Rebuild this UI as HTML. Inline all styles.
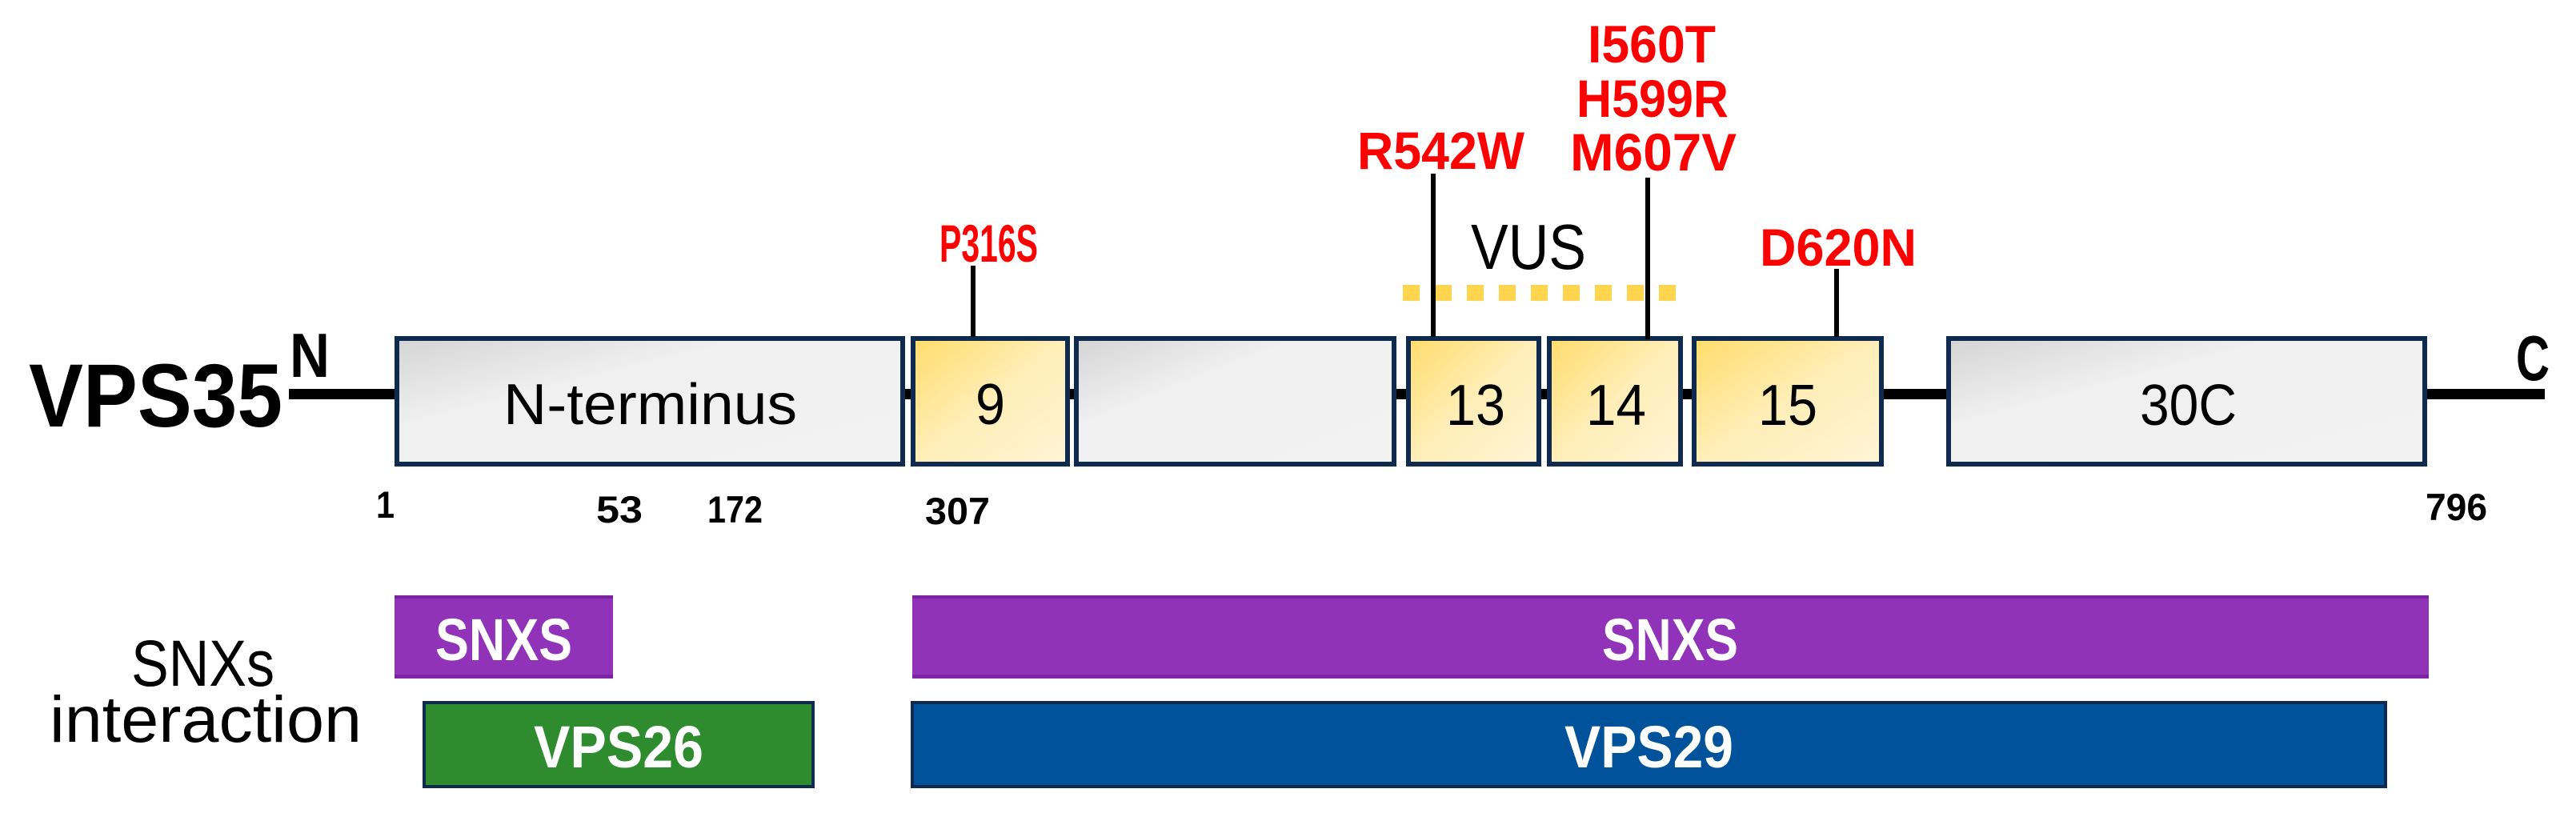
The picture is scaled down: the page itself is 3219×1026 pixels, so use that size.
<!DOCTYPE html>
<html><head><meta charset="utf-8"><style>html,body{margin:0;padding:0;background:#fff}svg{display:block}</style></head>
<body>
<svg width="3219" height="1026" viewBox="0 0 3219 1026" xmlns="http://www.w3.org/2000/svg" font-family="Liberation Sans, sans-serif">
<defs>
<linearGradient id="g" x1="0" y1="0" x2="1" y2="1"><stop offset="0" stop-color="#d4d4d4"/><stop offset="0.35" stop-color="#f0f0f0"/><stop offset="1" stop-color="#f2f2f2"/></linearGradient>
<linearGradient id="y" x1="0" y1="0" x2="1" y2="1"><stop offset="0" stop-color="#ffdc6a"/><stop offset="0.5" stop-color="#ffeeb8"/><stop offset="1" stop-color="#fff4d6"/></linearGradient>
</defs>
<!-- backbone -->
<rect x="361" y="486" width="2819" height="13" fill="#000"/>
<!-- boxes -->
<g stroke="#0f2a4f" stroke-width="6">
<rect x="496" y="423" width="632" height="157" fill="url(#g)"/>
<rect x="1141" y="423" width="193" height="157" fill="url(#y)"/>
<rect x="1345" y="423" width="397" height="157" fill="url(#g)"/>
<rect x="1760" y="423" width="163" height="157" fill="url(#y)"/>
<rect x="1936" y="423" width="164" height="157" fill="url(#y)"/>
<rect x="2117" y="423" width="234" height="157" fill="url(#y)"/>
<rect x="2435" y="423" width="595" height="157" fill="url(#g)"/>
</g>
<!-- VUS dotted -->
<line x1="1753" y1="366" x2="2101" y2="366" stroke="#ffd54f" stroke-width="20" stroke-dasharray="21 19"/>
<!-- stems -->
<g stroke="#000" stroke-width="6">
<line x1="1216" y1="332" x2="1216" y2="421"/>
<line x1="1791" y1="217" x2="1791" y2="421"/>
<line x1="2059" y1="222" x2="2059" y2="424"/>
<line x1="2295" y1="336" x2="2295" y2="421"/>
</g>
<!-- labels -->
<g font-weight="bold" fill="#000" lengthAdjust="spacingAndGlyphs">
<text x="36" y="533" font-size="112" textLength="317" lengthAdjust="spacingAndGlyphs">VPS35</text>
<text x="362" y="471" font-size="78" textLength="50" lengthAdjust="spacingAndGlyphs">N</text>
<text x="3144" y="475" font-size="80" textLength="42" lengthAdjust="spacingAndGlyphs">C</text>
<g font-size="47">
<text x="470" y="647" textLength="23" lengthAdjust="spacingAndGlyphs">1</text>
<text x="745" y="653" textLength="58" lengthAdjust="spacingAndGlyphs">53</text>
<text x="884" y="653" textLength="69" lengthAdjust="spacingAndGlyphs">172</text>
<text x="1156" y="655" textLength="81" lengthAdjust="spacingAndGlyphs">307</text>
<text x="3031" y="650" textLength="77" lengthAdjust="spacingAndGlyphs">796</text>
</g>
</g>
<g font-size="72" fill="#000">
<text x="629" y="530" textLength="367" lengthAdjust="spacingAndGlyphs">N-terminus</text>
<text x="1219" y="530" textLength="37" lengthAdjust="spacingAndGlyphs">9</text>
<text x="1807" y="531" textLength="74" lengthAdjust="spacingAndGlyphs">13</text>
<text x="1982" y="531" textLength="75" lengthAdjust="spacingAndGlyphs">14</text>
<text x="2197" y="531" textLength="74" lengthAdjust="spacingAndGlyphs">15</text>
<text x="2674" y="531" textLength="121" lengthAdjust="spacingAndGlyphs">30C</text>
<text x="1838" y="336" font-size="80" textLength="144" lengthAdjust="spacingAndGlyphs">VUS</text>
</g>
<g font-size="66" font-weight="bold" fill="#ff0000">
<text x="1174" y="327" textLength="123" lengthAdjust="spacingAndGlyphs">P316S</text>
<text x="1696" y="211" textLength="209" lengthAdjust="spacingAndGlyphs">R542W</text>
<text x="1984" y="78" textLength="160" lengthAdjust="spacingAndGlyphs">I560T</text>
<text x="1970" y="146" textLength="190" lengthAdjust="spacingAndGlyphs">H599R</text>
<text x="1962" y="213" textLength="208" lengthAdjust="spacingAndGlyphs">M607V</text>
<text x="2199" y="332" textLength="196" lengthAdjust="spacingAndGlyphs">D620N</text>
</g>
<!-- interaction bars -->
<rect x="493" y="744" width="273" height="104" fill="#9033b8"/>
<rect x="493" y="744" width="273" height="4" fill="#7a24a0"/>
<rect x="493" y="843" width="273" height="4" fill="#7a24a0"/>
<rect x="1140" y="744" width="1895" height="104" fill="#9033b8"/>
<rect x="1140" y="744" width="1895" height="4" fill="#7a24a0"/>
<rect x="1140" y="843" width="1895" height="4" fill="#7a24a0"/>
<rect x="530" y="878" width="486" height="105" fill="#2e8b2e" stroke="#0f2a4f" stroke-width="4"/>
<rect x="1140" y="878" width="1841" height="105" fill="#00529b" stroke="#0f2a4f" stroke-width="4"/>
<g font-size="74" font-weight="bold" fill="#fff">
<text x="544" y="825" textLength="171" lengthAdjust="spacingAndGlyphs">SNXS</text>
<text x="2002" y="825" textLength="170" lengthAdjust="spacingAndGlyphs">SNXS</text>
<text x="667" y="959" textLength="212" lengthAdjust="spacingAndGlyphs">VPS26</text>
<text x="1955" y="959" textLength="211" lengthAdjust="spacingAndGlyphs">VPS29</text>
</g>
<g font-size="82" fill="#000">
<text x="164" y="857" textLength="179" lengthAdjust="spacingAndGlyphs">SNXs</text>
<text x="62" y="927" textLength="390" lengthAdjust="spacingAndGlyphs">interaction</text>
</g>
</svg>
</body></html>
